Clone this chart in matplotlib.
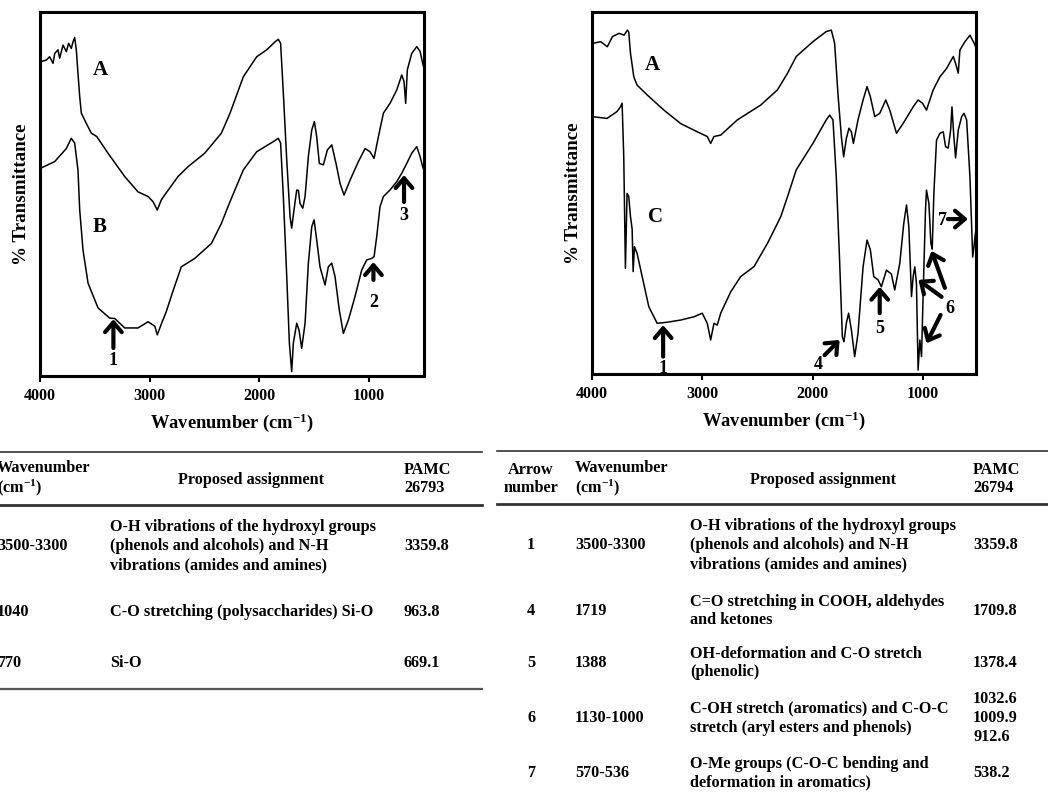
import matplotlib
matplotlib.use('Agg')
import matplotlib.pyplot as plt

plt.rcParams['font.family'] = ['Liberation Serif', 'DejaVu Serif']
plt.rcParams['font.weight'] = 'bold'
plt.rcParams['mathtext.fontset'] = 'custom'
plt.rcParams['mathtext.rm'] = 'Liberation Serif:bold'
plt.rcParams['mathtext.it'] = 'Liberation Serif:bold'
plt.rcParams['mathtext.bf'] = 'Liberation Serif:bold'

# ---------------- spectra: left panel (A and B) ----------------
left_A_wn = [4000, 3988, 3942, 3912, 3881, 3866, 3836, 3821, 3790, 3760, 3739, 3715, 3699, 3684,
             3669, 3654, 3638, 3623, 3578, 3532, 3483, 3380, 3228, 3107, 3015, 2970, 2931, 2894,
             2864, 2742, 2651, 2499, 2347, 2268, 2147, 2025, 1934, 1858, 1828, 1807, 1782, 1751,
             1721, 1706, 1685, 1660, 1645, 1630, 1605, 1584, 1554, 1523, 1499, 1478, 1454, 1417,
             1381, 1341, 1302, 1265, 1229, 1174, 1098, 1037, 992, 955, 916, 870, 810, 748, 703,
             682, 667, 652, 612, 566, 536, 512, 500]
left_A_T = [86.4, 86.4, 86.8, 87.7, 85.9, 88.6, 89.6, 87.3, 90.9, 89.1, 91.4, 90.0, 91.8, 93.0,
            89.6, 83.2, 76.7, 72.2, 69.4, 66.7, 65.8, 61.2, 54.8, 50.6, 49.3, 47.9, 45.6, 48.4,
            49.7, 54.8, 57.5, 61.2, 66.7, 72.2, 82.2, 87.7, 89.6, 91.8, 92.5, 91.4, 77.7, 59.3,
            43.8, 40.6, 45.6, 51.1, 51.0, 47.4, 46.1, 49.3, 60.3, 67.6, 69.9, 65.7, 58.4, 58.0,
            62.1, 63.5, 58.4, 52.9, 49.7, 53.8, 58.9, 62.5, 61.6, 59.8, 65.7, 72.2, 74.9, 78.6, 82.7,
            80.9, 74.9, 84.1, 88.6, 90.5, 89.2, 85.9, 84.5]

left_B_wn = [4000, 3866, 3760, 3715, 3684, 3654, 3638, 3608, 3562, 3471, 3365, 3319, 3228, 3107,
             3015, 2954, 2931, 2894, 2849, 2785, 2712, 2590, 2438, 2347, 2268, 2147, 2025, 1873,
             1828, 1807, 1782, 1751, 1727, 1706, 1691, 1660, 1639, 1615, 1584, 1554, 1523, 1502,
             1478, 1448, 1402, 1372, 1341, 1311, 1272, 1235, 1189, 1129, 1068, 1022, 976, 955,
             931, 901, 870, 810, 748, 703, 657, 612, 566, 536, 512, 500]
left_B_T = [57.0, 58.9, 62.5, 65.3, 64.0, 56.6, 45.6, 34.6, 25.5, 18.7, 15.9, 15.8, 13.2, 13.2,
            14.9, 13.7, 11.3, 14.3, 17.7, 23.6, 30.0, 32.3, 36.4, 41.9, 47.9, 56.6, 61.6, 64.4,
            65.3, 64.0, 49.3, 27.3, 9.0, 1.2, 9.0, 14.5, 12.6, 7.6, 14.5, 31.0, 41.0, 42.9,
            37.4, 30.0, 25.0, 30.0, 31.0, 27.3, 18.1, 11.7, 15.4, 21.8, 29.1, 31.9, 32.3, 32.8,
            38.3, 46.5, 49.3, 51.1, 53.4, 55.7, 58.4, 61.2, 63.0, 60.3, 57.5, 56.5]

# ---------------- spectra: right panel (A and C) ----------------
right_A_wn = [4000, 3921, 3861, 3815, 3755, 3709, 3679, 3667, 3651, 3621, 3591, 3500, 3348, 3197,
              3045, 2955, 2924, 2894, 2833, 2682, 2470, 2318, 2227, 2148, 1997, 1876, 1830, 1800,
              1770, 1739, 1718, 1694, 1670, 1648, 1630, 1588, 1542, 1506, 1476, 1436, 1391, 1336,
              1300, 1239, 1179, 1088, 1043, 1003, 967, 906, 845, 785, 724, 703, 679, 664, 618,
              573, 527, 518]
right_A_T = [91.3, 91.8, 90.4, 93.2, 94.1, 93.6, 95.0, 94.5, 88.6, 82.1, 79.8, 77.1, 72.9, 69.2,
             66.9, 65.6, 63.7, 65.6, 66.0, 70.2, 74.3, 78.5, 83.1, 87.7, 91.8, 94.6, 95.0, 91.4,
             77.5, 65.6, 60.0, 65.0, 67.9, 66.9, 63.7, 70.2, 75.7, 79.4, 76.6, 71.1, 72.0, 75.7,
             72.9, 66.5, 69.2, 73.8, 75.7, 74.8, 72.9, 78.5, 82.1, 84.4, 87.7, 85.8, 83.1, 89.5, 91.8,
             93.6, 90.9, 90.0]

right_C_wn = [4000, 3864, 3773, 3742, 3727, 3712, 3697, 3682, 3667, 3651, 3636, 3627, 3615, 3591,
              3545, 3485, 3409, 3318, 3197, 3076, 3000, 2955, 2924, 2894, 2864, 2833, 2742, 2652,
              2530, 2409, 2379, 2288, 2227, 2148, 1997, 1876, 1845, 1815, 1785, 1755, 1730, 1715,
              1694, 1673, 1648, 1618, 1588, 1542, 1506, 1476, 1445, 1406, 1376, 1330, 1285, 1255,
              1209, 1173, 1148, 1127, 1103, 1088, 1073, 1058, 1043, 1027, 1012, 997, 976, 967,
              945, 927, 915, 900, 876, 845, 815, 794, 770, 748, 736, 721, 703, 679, 648, 627, 603,
              573, 548, 536, 527, 518]
right_C_T = [71.1, 70.6, 72.5, 73.8, 74.8, 60.0, 29.2, 49.9, 49.0, 43.5, 40.0, 28.3, 35.2, 33.3,
             26.9, 18.6, 14.0, 14.3, 14.9, 15.8, 16.8, 14.0, 9.4, 14.0, 13.5, 16.8, 22.7, 26.9,
             29.7, 36.1, 37.9, 43.5, 49.0, 56.4, 63.7, 70.2, 71.5, 70.2, 54.5, 31.5, 10.3, 8.9,
             14.0, 16.8, 12.2, 4.8, 11.2, 29.6, 37.0, 34.3, 26.9, 26.0, 24.1, 28.7, 27.6, 23.2,
             30.6, 41.6, 46.7, 40.7, 21.4, 26.9, 29.6, 25.0, 1.1, 9.4, 4.8, 22.3, 45.3, 50.8,
             47.1, 36.1, 34.5, 49.9, 64.6, 66.5, 66.9, 62.8, 62.4, 67.4, 73.8, 66.5, 59.7, 67.4,
             71.1, 72.0, 70.2, 54.5, 32.3, 35.2, 38.0, 40.0]

# ---------------- peak arrows ----------------
left_arrow_labels = ['1', '2', '3']
left_arrow_wn = [3331, 961, 682]
left_arrow_head_T = [15.6, 31.3, 55.2]
left_arrow_tail_T = [7.7, 26.4, 47.8]
left_arrow_label_T = [4.2, 20.3, 44.2]

right_arrow_tail_wn = [3355, 1891, 1391, 830, 800, 839, 773]
right_arrow_tail_T = [4.8, 5.2, 16.8, 21.3, 23.8, 16.3, 42.8]
right_arrow_head_wn = [3355, 1755, 1391, 1040, 921, 967, 591]
right_arrow_head_T = [13.5, 9.4, 24.1, 26.0, 34.0, 8.5, 42.8]
right_label_text = ['1', '4', '5', '6', '7']
right_label_wn = [3355, 1952, 1391, 752, 818]
right_label_T = [1.6, 2.5, 12.6, 18.2, 42.5]

# ---------------- tables ----------------
tab1_header = ['Wavenumber\n(cm$^{-1}$)', 'Proposed assignment', 'PAMC\n26793']
tab1_wavenumber = ['3500-3300', '1040', '770']
tab1_assignment = ['O-H vibrations of the hydroxyl groups\n(phenols and alcohols) and N-H\nvibrations (amides and amines)',
                   'C-O stretching (polysaccharides) Si-O',
                   'Si-O']
tab1_pamc = ['3359.8', '963.8', '669.1']

tab2_header = ['Arrow\nnumber', 'Wavenumber\n(cm$^{-1}$)', 'Proposed assignment', 'PAMC\n26794']
tab2_arrow = ['1', '4', '5', '6', '7']
tab2_wavenumber = ['3500-3300', '1719', '1388', '1130-1000', '570-536']
tab2_assignment = ['O-H vibrations of the hydroxyl groups\n(phenols and alcohols) and N-H\nvibrations (amides and amines)',
                   'C=O stretching in COOH, aldehydes\nand ketones',
                   'OH-deformation and C-O stretch\n(phenolic)',
                   'C-OH stretch (aromatics) and C-O-C\nstretch (aryl esters and phenols)',
                   'O-Me groups (C-O-C bending and\ndeformation in aromatics)']
tab2_pamc = ['3359.8', '1709.8', '1378.4', '1032.6\n1009.9\n912.6', '538.2']

W, H = 1048, 794
fig = plt.figure(figsize=(W / 100, H / 100), dpi=100)

# overlay in pixel coordinates for the tables
tab = fig.add_axes([0, 0, 1, 1])
tab.set_xlim(0, W)
tab.set_ylim(H, 0)
tab.axis('off')


def spectrum_axes(left_px, top_px, right_px, bottom_px, xmin):
    ax = fig.add_axes([left_px / W, 1 - bottom_px / H, (right_px - left_px) / W, (bottom_px - top_px) / H])
    ax.set_xlim(4000, xmin)
    ax.set_ylim(0, 100)
    ax.set_yticks([])
    ax.set_xticks([4000, 3000, 2000, 1000])
    ax.set_xticklabels(['4000', '3000', '2000', '1000'], fontsize=11.6, fontweight='bold')
    ax.tick_params(axis='x', direction='out', length=4, width=1.5, pad=5)
    for s in ax.spines.values():
        s.set_linewidth(2.2)
    ax.set_xlabel('Wavenumber (cm$^{-1}$)', fontsize=13.3, fontweight='bold')
    ax.xaxis.set_label_coords(0.5, -0.097)
    ax.set_ylabel('% Transmittance', fontsize=13.7, fontweight='bold')
    ax.yaxis.set_label_coords(-0.027, 0.5)
    return ax


arrow_kw = dict(arrowstyle='->,head_length=0.35,head_width=0.3', lw=3.0, color='black',
                shrinkA=0, shrinkB=0, mutation_scale=20)

# left panel
ax1 = spectrum_axes(40, 12, 424, 376, 500)
ax1.plot(left_A_wn, left_A_T, color='black', lw=1.1)
ax1.plot(left_B_wn, left_B_T, color='black', lw=1.1)
ax1.text(3453, 84.1, 'A', fontsize=15, fontweight='bold', ha='center', va='center')
ax1.text(3453, 41.0, 'B', fontsize=15, fontweight='bold', ha='center', va='center')
for lab, wn, h, t, lt in zip(left_arrow_labels, left_arrow_wn, left_arrow_head_T,
                             left_arrow_tail_T, left_arrow_label_T):
    ax1.annotate('', xy=(wn, h), xytext=(wn, t), arrowprops=arrow_kw)
    ax1.text(wn, lt, lab, fontsize=13, fontweight='bold', ha='center', va='center')

# right panel
ax2 = spectrum_axes(592, 12, 976, 374, 518)
ax2.plot(right_A_wn, right_A_T, color='black', lw=1.1)
ax2.plot(right_C_wn, right_C_T, color='black', lw=1.1)
ax2.text(3455, 85.4, 'A', fontsize=15, fontweight='bold', ha='center', va='center')
ax2.text(3420, 43.5, 'C', fontsize=15, fontweight='bold', ha='center', va='center')
for tw, tt, hw, ht in zip(right_arrow_tail_wn, right_arrow_tail_T, right_arrow_head_wn, right_arrow_head_T):
    ax2.annotate('', xy=(hw, ht), xytext=(tw, tt), arrowprops=arrow_kw)
for lab, wn, t in zip(right_label_text, right_label_wn, right_label_T):
    ax2.text(wn, t, lab, fontsize=13, fontweight='bold', ha='center', va='center')

# ---------------- table 1 ----------------
fs = 11.7
ls = 1.25
hls = 1.12
tab.plot([0, 482], [452, 452], color='#333333', lw=1.2)
tab.plot([0, 482], [505, 505], color='#333333', lw=2.0)
tab.plot([0, 482], [689, 689], color='#555555', lw=1.6)
tab.text(-3, 479, tab1_header[0], fontsize=fs, ha='left', va='center', linespacing=hls)
tab.text(251, 480, tab1_header[1], fontsize=fs, ha='center', va='center')
tab.text(404, 479, tab1_header[2], fontsize=fs, ha='left', va='center', linespacing=ls)
tab1_rows_y = [546, 612, 663]
for y, wn, asg, pv in zip(tab1_rows_y, tab1_wavenumber, tab1_assignment, tab1_pamc):
    tab.text(-3, y, wn, fontsize=fs, ha='left', va='center')
    tab.text(110, y, asg, fontsize=fs, ha='left', va='center', linespacing=ls)
    tab.text(404, y, pv, fontsize=fs, ha='left', va='center')

# ---------------- table 2 ----------------
tab.plot([497, W], [451, 451], color='#333333', lw=1.2)
tab.plot([497, W], [504, 504], color='#333333', lw=2.0)
tab.text(531, 479, tab2_header[0], fontsize=fs, ha='center', va='center', linespacing=ls)
tab.text(575, 479, tab2_header[1], fontsize=fs, ha='left', va='center', linespacing=hls)
tab.text(823, 480, tab2_header[2], fontsize=fs, ha='center', va='center')
tab.text(973, 479, tab2_header[3], fontsize=fs, ha='left', va='center', linespacing=ls)
tab2_rows_y = [545, 611, 663, 718, 773]
for y, an, wn, asg, pv in zip(tab2_rows_y, tab2_arrow, tab2_wavenumber, tab2_assignment, tab2_pamc):
    tab.text(531, y, an, fontsize=fs, ha='center', va='center')
    tab.text(575, y, wn, fontsize=fs, ha='left', va='center')
    tab.text(690, y, asg, fontsize=fs, ha='left', va='center', linespacing=ls)
    tab.text(973, y, pv, fontsize=fs, ha='left', va='center', linespacing=ls)

fig.savefig('out.png', dpi=100)
